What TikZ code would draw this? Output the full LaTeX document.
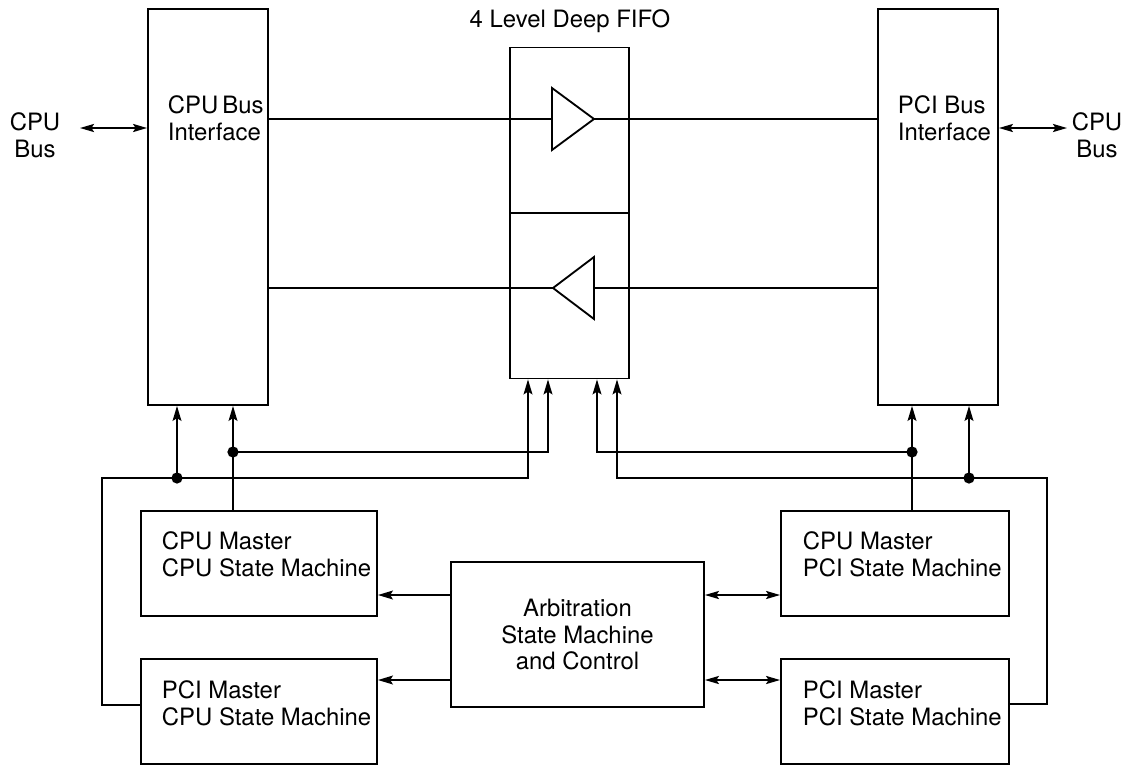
\documentclass[tikz,border=0pt]{standalone}
\usepackage{fontspec}
\setmainfont{TeX Gyre Heros}
\usepackage{tikz}
\usetikzlibrary{arrows.meta,positioning,calc}

\begin{document}
\begin{tikzpicture}[x=0.02cm, y=-0.02cm, line width=1.05pt,
    font=\fontsize{13.6}{15.3}\selectfont,
    blk/.style={draw, inner sep=0pt, line width=1.05pt},
    lbl/.style={inner sep=0pt, align=left},
    arr/.style={-{Stealth[length=8.5pt, width=5pt, inset=1.5pt]}},
    dbl/.style={{Stealth[length=8pt, width=4.6pt, inset=1.5pt]}-{Stealth[length=8pt, width=4.6pt, inset=1.5pt]}}]
  \useasboundingbox (0,0) rectangle (1129,765);

  % bus interfaces and fifo
  \node[blk, minimum width=2.4cm, minimum height=7.92cm] (cpubi) at (208,207) {};
  \node[blk, minimum width=2.4cm, minimum height=7.92cm] (pcibi) at (938,207) {};
  \node[blk, minimum width=2.38cm, minimum height=6.62cm] (fifo) at (569.5,213) {};
  \node[lbl, anchor=base west] (cpubi-t) at (167,140) {CPU\,Bus\\Interface};
  \node[lbl, anchor=base west] (pcibi-t) at (897,140) {PCI Bus\\Interface};
  \node[lbl, anchor=base] (fifo-t) at (570,27) {4 Level Deep FIFO};
  \draw (fifo.west) -- (fifo.east);

  % state machines
  \node[blk, minimum width=4.72cm, minimum height=2.1cm] (cmcsm) at (259,563.5) {};
  \node[blk, minimum width=4.72cm, minimum height=2.1cm] (pmcsm) at (259,711.5) {};
  \node[blk, minimum width=4.56cm, minimum height=2.1cm] (cmpsm) at (895,563.5) {};
  \node[blk, minimum width=4.56cm, minimum height=2.1cm] (pmpsm) at (895,711.5) {};
  \node[blk, minimum width=5.06cm, minimum height=2.9cm, align=center] (arb) at (577.5,634.5) {Arbitration\\State Machine\\and Control};
  \node[lbl, anchor=base west] (cmcsm-t) at (161,576) {CPU Master\\CPU State Machine};
  \node[lbl, anchor=base west] (pmcsm-t) at (161,725) {PCI Master\\CPU State Machine};
  \node[lbl, anchor=base west] (cmpsm-t) at (802,576) {CPU Master\\PCI State Machine};
  \node[lbl, anchor=base west] (pmpsm-t) at (802,725) {PCI Master\\PCI State Machine};

  % outside buses
  \node[lbl, align=center] (busL) at (35,135) {CPU\\Bus};
  \node[lbl, align=center] (busR) at (1097,135) {CPU\\Bus};
  \coordinate (lb) at (80,128);
  \coordinate (rb) at (1067,128);
  \draw[dbl] (lb) -- (lb -| cpubi.west);
  \draw[dbl] (rb -| pcibi.east) -- (rb);

  % buffers inside the fifo
  \coordinate (upin) at (552,119);
  \coordinate (upout) at (594,119);
  \coordinate (dnin) at (594,288);
  \coordinate (dnout) at (553,288);
  \draw (cpubi.east |- upin) -- (upin);
  \draw (upout) -- (upout -| pcibi.west);
  \draw[line join=miter] (upin) -- ++(0,-31) -- (upout) -- ++(-42,31) -- cycle;
  \draw (pcibi.west |- dnin) -- (dnin);
  \draw (dnout) -- (dnout -| cpubi.east);
  \draw[line join=miter] (dnin) -- ++(0,-31) -- (dnout) -- ++(41,31) -- cycle;

  % control wiring
  \coordinate (cL) at (102,478);
  \coordinate (cLb) at (102,705);
  \coordinate (j1) at (177,478);
  \coordinate (j2) at (233,452);
  \coordinate (f1) at (528,478);
  \coordinate (f2) at (548,452);
  \coordinate (f3) at (597,452);
  \coordinate (f4) at (617,478);
  \coordinate (j3) at (912,452);
  \coordinate (j4) at (969,478);
  \coordinate (cR) at (1047,478);
  \coordinate (cRb) at (1047,704);
  \draw[arr] (cLb -| pmcsm.west) -- (cLb) -- (cL) -| (f1 |- fifo.south);
  \draw[arr] (j1) -- (j1 |- cpubi.south);
  \draw[arr] (j2 |- cmcsm.north) -- (j2 |- cpubi.south);
  \draw[arr] (j2) -| (f2 |- fifo.south);
  \draw[arr] (j3 |- cmpsm.north) -- (j3 |- pcibi.south);
  \draw[arr] (j3) -| (f3 |- fifo.south);
  \draw[arr] (cRb -| pmpsm.east) -- (cRb) -- (cR) -| (f4 |- fifo.south);
  \draw[arr] (j4) -- (j4 |- pcibi.south);
  \foreach \j in {j1,j2,j3,j4}
    \fill (\j) circle (3.2pt);

  % arbitration links
  \coordinate (r1) at (0,595);
  \coordinate (r2) at (0,680);
  \foreach \r/\lft/\rgt in {r1/cmcsm/cmpsm, r2/pmcsm/pmpsm}
    { \draw[arr] (arb.west |- \r) -- (\lft.east |- \r);
      \draw[dbl] (arb.east |- \r) -- (\rgt.west |- \r); }
\end{tikzpicture}
\end{document}
